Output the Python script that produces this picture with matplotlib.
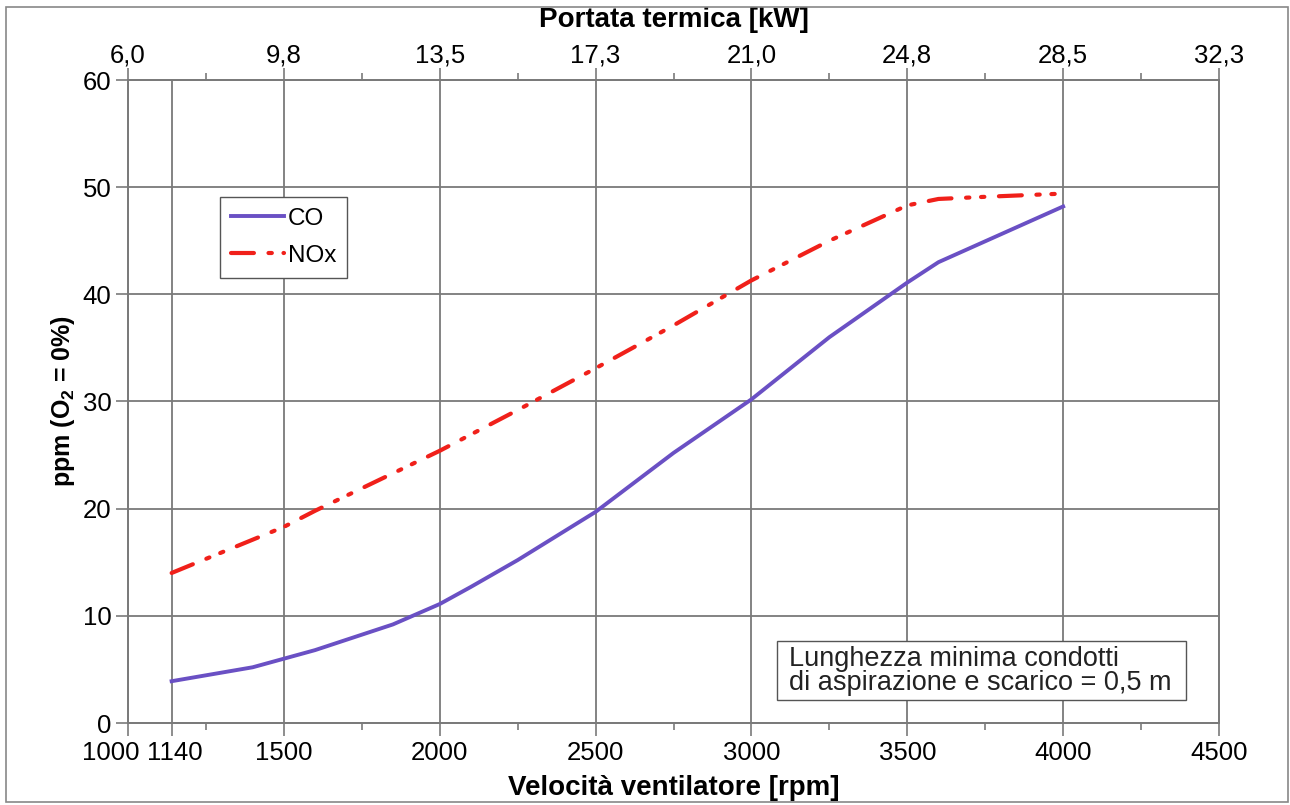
import numpy as np
import matplotlib
matplotlib.use("Agg")
from matplotlib import pyplot as plt
from matplotlib.patches import Rectangle
from matplotlib.transforms import ScaledTranslation

plt.rcParams['font.family'] = ['Liberation Sans', 'DejaVu Sans']
plt.rcParams['mathtext.fontset'] = 'custom'
plt.rcParams['mathtext.rm'] = 'Liberation Sans'
plt.rcParams['mathtext.bf'] = 'Liberation Sans:bold'

# data
rpm_co = [1140, 1300, 1400, 1600, 1850, 2000, 2100, 2250, 2500, 2600, 2750,
          3000, 3250, 3500, 3600, 4000]
co = [3.9, 4.7, 5.2, 6.8, 9.2, 11.1, 12.7, 15.2, 19.7, 21.9, 25.2,
      30.2, 36.0, 41.1, 43.0, 48.2]
rpm_nox = [1140, 1500, 1600, 2000, 2250, 2500, 2750, 3000, 3250, 3500,
           3600, 3750, 4000]
nox = [14.0, 18.3, 19.8, 25.4, 29.2, 33.1, 37.1, 41.3, 45.0, 48.3,
       48.9, 49.1, 49.4]

x_ticks = [1000, 1140, 1500, 2000, 2500, 3000, 3500, 4000, 4500]
x_minor = [1250, 1750, 2250, 2750, 3250, 3750, 4250]
y_ticks = [0, 10, 20, 30, 40, 50, 60]
top_ticks = [1000, 1500, 2000, 2500, 3000, 3500, 4000, 4500]
top_labels = ["6,0", "9,8", "13,5", "17,3", "21,0", "24,8", "28,5", "32,3"]

grid_c = '#7a7a7a'
box_c = '#555555'
fs = 18.5
fs_lab = 20

fig = plt.figure(figsize=(12.9, 8.05), dpi=100)
ax = fig.add_axes([128/1290, 1-723/805, (1219-128)/1290, (723-80)/805])

ax.plot(rpm_co, co, color='#6a50c4', lw=2.8, label='CO', zorder=3)
ax.plot(rpm_nox, nox, color='#f0201a', lw=3, label='NOx', zorder=3,
        dashes=(5.5, 3.5, 0.8, 2.8, 0.8, 3.5), dash_capstyle='round')

ax.set_xlim(1000, 4500)
ax.set_ylim(0, 60)
ax.set_xticks(x_ticks)
ax.set_xticks(x_minor, minor=True)
ax.set_yticks(y_ticks)
ax.grid(True, which='major', color=grid_c, lw=1.3)
ax.tick_params(which='major', direction='out', length=9, width=1.2, color=grid_c,
               labelsize=fs, pad=4)
ax.tick_params(axis='y', pad=3)
ax.tick_params(which='minor', direction='out', length=5, width=1.2, color=grid_c)
for s in ax.spines.values():
    s.set_color(grid_c)
    s.set_linewidth(1.3)

# 1000 and 1140 sit close together: push them apart like the original
xl = ax.get_xticklabels()
xl[0].set_transform(xl[0].get_transform() + ScaledTranslation(-0.17, 0, fig.dpi_scale_trans))
xl[1].set_transform(xl[1].get_transform() + ScaledTranslation(0.03, 0, fig.dpi_scale_trans))

ax.set_xlabel('Velocità ventilatore [rpm]', fontsize=fs_lab, fontweight='bold', labelpad=7)
ax.set_ylabel(r'ppm (O$_\mathbf{2}$ = 0%)', fontsize=fs_lab - 2, fontweight='bold', labelpad=4)

ax2 = ax.twiny()
ax2.set_xlim(ax.get_xlim())
ax2.set_xticks(top_ticks)
ax2.set_xticklabels(top_labels)
ax2.set_xticks(x_minor, minor=True)
ax2.tick_params(which='major', direction='out', length=9, width=1.2, color=grid_c,
                labelsize=fs, pad=0)
ax2.tick_params(which='minor', direction='out', length=5, width=1.2, color=grid_c)
for s in ax2.spines.values():
    s.set_color(grid_c)
    s.set_linewidth(1.3)
ax2.set_xlabel('Portata termica [kW]', fontsize=fs_lab, fontweight='bold', labelpad=12)

leg = ax.legend(loc='upper left', bbox_to_anchor=(0.084, 0.818), borderaxespad=0,
                fontsize=17.5, fancybox=False, edgecolor=box_c, framealpha=1,
                handlelength=2.2, handletextpad=0.15, labelspacing=0.6,
                borderpad=0.45)
leg.get_frame().set_linewidth(1.0)

# note box in the lower right corner
ax.add_patch(Rectangle(((777-128)/1091, (723-700)/643), (1186-777)/1091, 59/643,
                       transform=ax.transAxes, fc='white', ec=box_c, lw=1.0, zorder=4))
ax.text((789-128)/1091, (723-671)/643, 'Lunghezza minima condotti\ndi aspirazione e scarico = 0,5 m',
        transform=ax.transAxes, fontsize=19.5, va='center', ha='left', linespacing=0.9,
        color='#222222', zorder=5)

fig.patches.append(Rectangle((6/1290, 3/805), 1-8/1290, 1-10/805, transform=fig.transFigure,
                             fill=False, ec='#888888', lw=1.2))

fig.savefig('out.png', dpi=100)
